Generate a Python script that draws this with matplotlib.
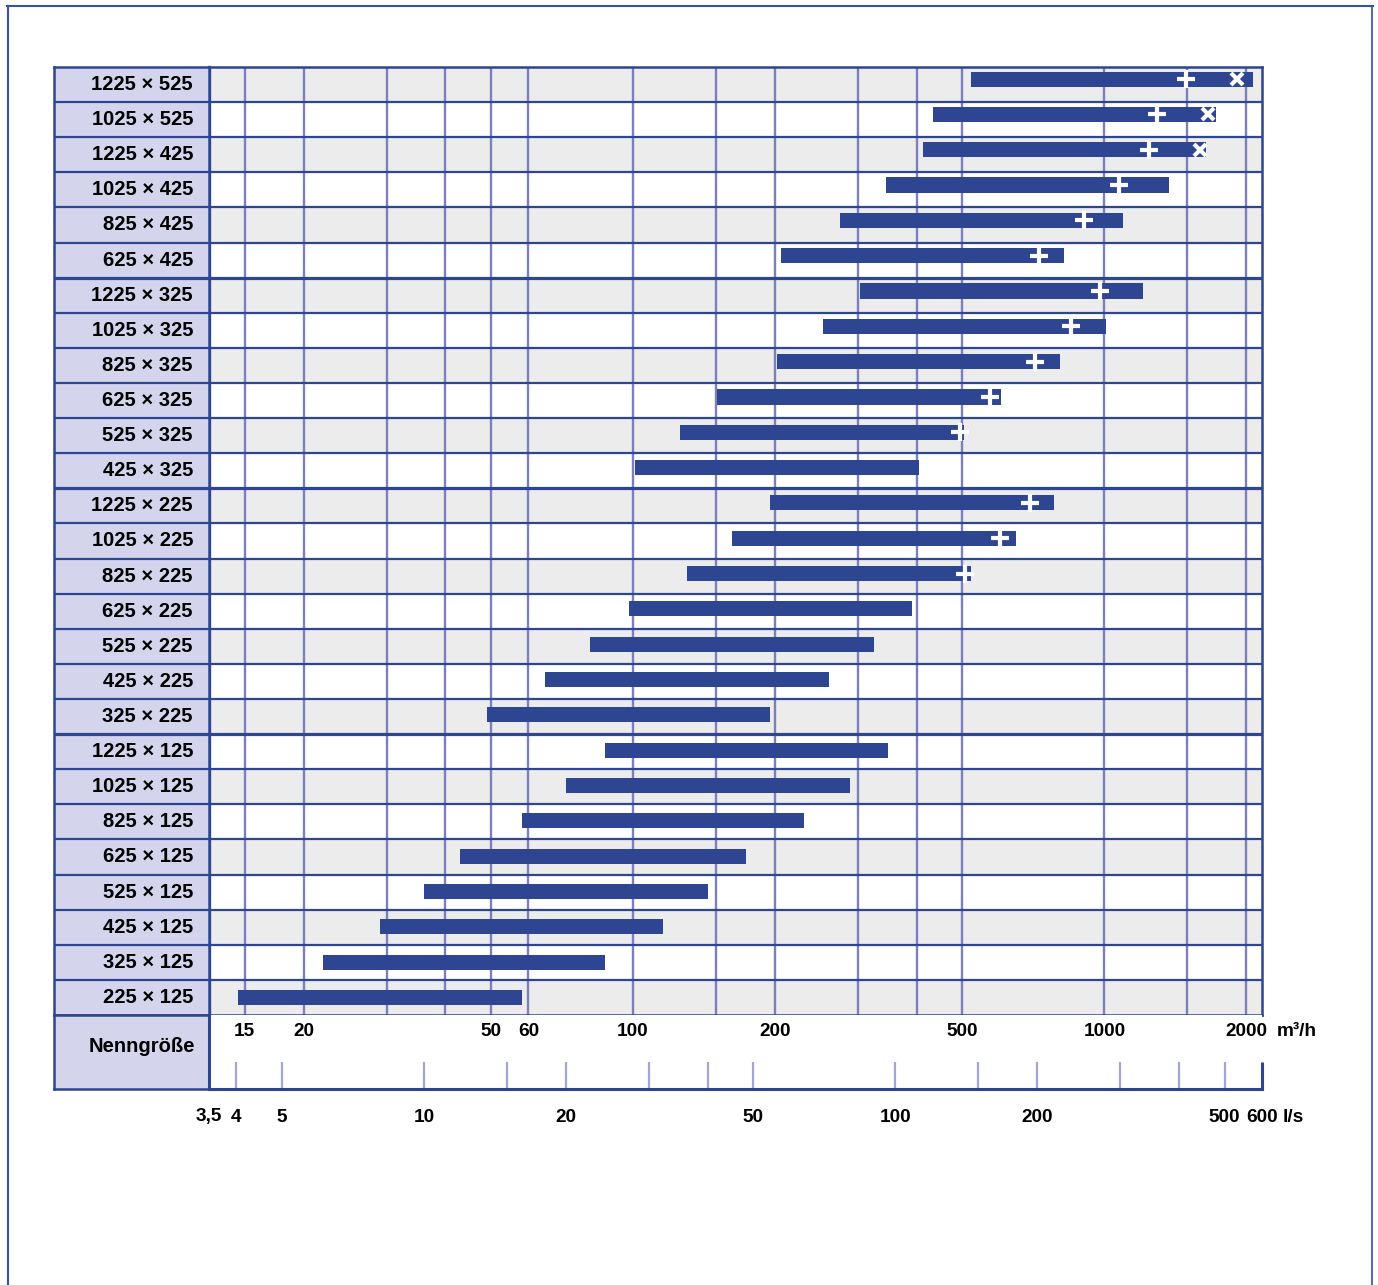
import matplotlib
matplotlib.use("Agg")
import matplotlib.pyplot as plt
import numpy as np
from matplotlib.lines import Line2D

plt.rcParams['font.family'] = ['Liberation Sans', 'DejaVu Sans']
plt.rcParams['font.weight'] = 'bold'

# ---------------- data ----------------
sizes = ["1225 × 525", "1025 × 525", "1225 × 425", "1025 × 425", "825 × 425", "625 × 425",
         "1225 × 325", "1025 × 325", "825 × 325", "625 × 325", "525 × 325", "425 × 325",
         "1225 × 225", "1025 × 225", "825 × 225", "625 × 225", "525 × 225", "425 × 225", "325 × 225",
         "1225 × 125", "1025 × 125", "825 × 125", "625 × 125", "525 × 125", "425 × 125", "325 × 125",
         "225 × 125"]
q_min = [520, 432, 412, 344, 275, 206,
         303, 253, 202, 151, 126, 101,
         195, 162, 130, 98, 81, 65, 49,
         87, 72, 58, 43, 36, 29, 22, 14.5]
q_max = [2069, 1727, 1646, 1373, 1097, 823,
         1209, 1010, 807, 605, 503, 404,
         780, 648, 520, 390, 324, 260, 195,
         347, 288, 231, 174, 144, 116, 87, 58]
nan = np.nan
q_plus = [1492, 1295, 1245, 1076, 907, 725,
          981, 851, 714, 571, 493, nan,
          694, 602, 505, nan, nan, nan, nan,
          nan, nan, nan, nan, nan, nan, nan, nan]
q_cross = [1913, 1661, 1597] + [nan] * 24

grid_m3h = [15, 20, 30, 40, 50, 60, 100, 150, 200, 300, 400, 500, 1000, 1500, 2000]
top_label_vals = [15, 20, 50, 60, 100, 200, 500, 1000, 2000]
ls_tick_vals = [4, 5, 10, 15, 20, 30, 40, 50, 100, 150, 200, 300, 400, 500]
ls_label_vals = [3.5, 4, 5, 10, 20, 50, 100, 200, 500, 600]
ls_label_text = ["3,5", "4", "5", "10", "20", "50", "100", "200", "500", "600"]
group_breaks = [6, 12, 19]   # thicker line after these rows

LS_TO_M3H = 3.6
XMIN, XMAX = 3.5 * LS_TO_M3H, 600 * LS_TO_M3H

# ---------------- style ----------------
DARK = '#2e4591'
GRID = '#7b80bd'
TICK = '#a3a6d3'
LAV = '#d4d4ec'
GRAY = '#ececec'

W, H = 1378, 1285
fig = plt.figure(figsize=(W / 100, H / 100), dpi=100)


def fr(x0, y0, x1, y1):
    return [x0 / W, 1 - y1 / H, (x1 - x0) / W, (y1 - y0) / H]


n = len(sizes)
rows = np.arange(n)
# bars sit slightly above the row centre, more so towards the top
bar_y = rows - 0.006 * (n - 1 - rows)

# outer frame
fig.add_artist(Line2D([7.5 / W, 7.5 / W], [0, 1 - 6 / H], color='#3b51a0', lw=1.5, transform=fig.transFigure))
fig.add_artist(Line2D([1372 / W, 1372 / W], [0, 1 - 6 / H], color='#5a6cb0', lw=1.5, transform=fig.transFigure))
fig.add_artist(Line2D([7 / W, 1372.5 / W], [1 - 6 / H, 1 - 6 / H], color='#3b51a0', lw=1.5, transform=fig.transFigure))

# ---------------- main chart ----------------
ax = fig.add_axes(fr(209, 67, 1262, 1015))
ax.set_xscale('log')
ax.set_xlim(XMIN, XMAX)
ax.set_ylim(n - 0.5, -0.5)
ax.set_xticks([]); ax.set_yticks([])
ax.minorticks_off()
ax.tick_params(which='both', length=0, labelbottom=False, labelleft=False)
for i in rows:
    if i % 2 == 0:
        ax.axhspan(i - 0.5, i + 0.5, color=GRAY, lw=0, zorder=0)
ax.vlines(grid_m3h, -0.5, n - 0.5, color=GRID, lw=1.7, zorder=1)
for b in range(1, n):
    ax.axhline(b - 0.5, color=DARK, lw=2.3 if b in group_breaks else 1.6, zorder=2)
ax.barh(bar_y, np.array(q_max) - np.array(q_min), left=q_min, height=0.43,
        color=DARK, lw=0, zorder=3)
ax.plot(q_plus, bar_y, ls='', marker='+', ms=13, mew=3, color='white', zorder=4)
ax.plot(q_cross, bar_y, ls='', marker='x', ms=9, mew=3, color='white', zorder=4)
for s in ax.spines.values():
    s.set_color(DARK); s.set_linewidth(1.8)
ax.spines['left'].set_linewidth(2.4)

# ---------------- size labels ----------------
lab = fig.add_axes(fr(54, 67, 209, 1015))
lab.set_facecolor(LAV)
lab.set_xlim(0, 1); lab.set_ylim(n - 0.5, -0.5)
lab.set_xticks([]); lab.set_yticks([])
for b in range(1, n):
    lab.axhline(b - 0.5, color=DARK, lw=2.3 if b in group_breaks else 1.6)
for i, s in enumerate(sizes):
    lab.text((193 - 54) / 155, i, s, ha='right', va='center', fontsize=14.5, fontweight='bold')
for s in lab.spines.values():
    s.set_color(DARK); s.set_linewidth(1.8)

nb = fig.add_axes(fr(54, 1015, 209, 1089))
nb.set_facecolor(LAV)
nb.set_xlim(0, 1); nb.set_ylim(0, 1)
nb.set_xticks([]); nb.set_yticks([])
nb.text((142 - 54) / 155, 0.57, "Nenngröße", ha='center', va='center', fontsize=14.5, fontweight='bold')
for s in nb.spines.values():
    s.set_color(DARK); s.set_linewidth(1.8)

# ---------------- scale axes ----------------
bx = fig.add_axes(fr(209, 1015, 1262, 1089))
bx.set_xscale('log')
bx.set_xlim(XMIN, XMAX)
bx.set_ylim(0, 1)
bx.set_xticks([]); bx.set_yticks([])
bx.minorticks_off()
bx.tick_params(which='both', length=0, labelbottom=False, labelleft=False)
for side in ('top', 'right'):
    bx.spines[side].set_visible(False)
for side in ('left', 'bottom'):
    bx.spines[side].set_color(DARK); bx.spines[side].set_linewidth(2.2)
tick_h = (1089 - 1062) / 74
bx.vlines([v * LS_TO_M3H for v in ls_tick_vals], 0, tick_h, color=TICK, lw=1.6)
bx.vlines([XMAX], 0, tick_h, color=DARK, lw=2.2, clip_on=False)
y_top = 1 - (1031 - 1015) / 74
for v in top_label_vals:
    bx.text(v, y_top, str(v), ha='center', va='center', fontsize=13.7, fontweight='bold')
bx.annotate("m³/h", xy=(XMAX, y_top), xytext=(15, 0), textcoords='offset pixels',
            ha='left', va='center', fontsize=13.7, fontweight='bold', annotation_clip=False)
y_bot = -(1117 - 1089) / 74
for v, t in zip(ls_label_vals, ls_label_text):
    bx.text(v * LS_TO_M3H, y_bot, t, ha='center', va='center', fontsize=13.7,
            fontweight='bold', clip_on=False)
bx.annotate("l/s", xy=(XMAX, y_bot), xytext=(21, 0), textcoords='offset pixels',
            ha='left', va='center', fontsize=13.7, fontweight='bold', annotation_clip=False)

fig.savefig("out.png", dpi=100)
